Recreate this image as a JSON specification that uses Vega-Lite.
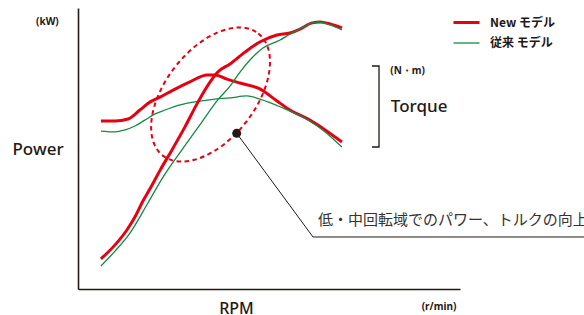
{
  "$schema": "https://vega.github.io/schema/vega-lite/v6.json",
  "width": 382,
  "height": 281,
  "autosize": {"type": "none"},
  "padding": {"left": 78, "top": 8, "right": 124, "bottom": 26},
  "background": "white",
  "config": {
    "view": {"stroke": null},
    "font": "Noto Sans CJK JP",
    "axis": {"grid": false, "ticks": false, "labels": false, "domainColor": "#231815", "domainWidth": 1.6, "titleFont": "Noto Sans", "titleFontWeight": 500, "titleColor": "#231815"}
  },
  "datasets": {
    "curves": [
      {"model": "New モデル", "metric": "torque", "rpm": 6.0, "value": 59.8},
      {"model": "New モデル", "metric": "torque", "rpm": 9.7, "value": 59.8},
      {"model": "New モデル", "metric": "torque", "rpm": 13.1, "value": 60.5},
      {"model": "New モデル", "metric": "torque", "rpm": 16.2, "value": 63.7},
      {"model": "New モデル", "metric": "torque", "rpm": 18.8, "value": 66.5},
      {"model": "New モデル", "metric": "torque", "rpm": 21.5, "value": 68.3},
      {"model": "New モデル", "metric": "torque", "rpm": 24.9, "value": 70.8},
      {"model": "New モデル", "metric": "torque", "rpm": 29.3, "value": 73.7},
      {"model": "New モデル", "metric": "torque", "rpm": 33.8, "value": 76.2},
      {"model": "New モデル", "metric": "torque", "rpm": 35.9, "value": 76.2},
      {"model": "New モデル", "metric": "torque", "rpm": 39.0, "value": 74.7},
      {"model": "New モデル", "metric": "torque", "rpm": 42.4, "value": 73.3},
      {"model": "New モデル", "metric": "torque", "rpm": 47.6, "value": 71.2},
      {"model": "New モデル", "metric": "torque", "rpm": 52.1, "value": 66.9},
      {"model": "New モデル", "metric": "torque", "rpm": 55.5, "value": 63.7},
      {"model": "New モデル", "metric": "torque", "rpm": 60.7, "value": 60.1},
      {"model": "New モデル", "metric": "torque", "rpm": 64.7, "value": 56.6},
      {"model": "New モデル", "metric": "torque", "rpm": 69.1, "value": 52.3},
      {"model": "従来 モデル", "metric": "torque", "rpm": 6.0, "value": 56.2},
      {"model": "従来 モデル", "metric": "torque", "rpm": 9.7, "value": 55.9},
      {"model": "従来 モデル", "metric": "torque", "rpm": 12.3, "value": 56.6},
      {"model": "従来 モデル", "metric": "torque", "rpm": 14.9, "value": 58.0},
      {"model": "従来 モデル", "metric": "torque", "rpm": 17.5, "value": 60.1},
      {"model": "従来 モデル", "metric": "torque", "rpm": 20.2, "value": 62.3},
      {"model": "従来 モデル", "metric": "torque", "rpm": 22.8, "value": 63.7},
      {"model": "従来 モデル", "metric": "torque", "rpm": 26.7, "value": 65.5},
      {"model": "従来 モデル", "metric": "torque", "rpm": 30.1, "value": 66.5},
      {"model": "従来 モデル", "metric": "torque", "rpm": 35.9, "value": 67.6},
      {"model": "従来 モデル", "metric": "torque", "rpm": 39.8, "value": 68.0},
      {"model": "従来 モデル", "metric": "torque", "rpm": 44.2, "value": 68.7},
      {"model": "従来 モデル", "metric": "torque", "rpm": 47.6, "value": 67.6},
      {"model": "従来 モデル", "metric": "torque", "rpm": 53.7, "value": 64.4},
      {"model": "従来 モデル", "metric": "torque", "rpm": 60.7, "value": 59.8},
      {"model": "従来 モデル", "metric": "torque", "rpm": 64.7, "value": 55.9},
      {"model": "従来 モデル", "metric": "torque", "rpm": 69.1, "value": 50.5},
      {"model": "New モデル", "metric": "power", "rpm": 6.0, "value": 10.7},
      {"model": "New モデル", "metric": "power", "rpm": 9.7, "value": 15.7},
      {"model": "New モデル", "metric": "power", "rpm": 12.8, "value": 21.0},
      {"model": "New モデル", "metric": "power", "rpm": 14.9, "value": 25.6},
      {"model": "New モデル", "metric": "power", "rpm": 17.0, "value": 31.3},
      {"model": "New モデル", "metric": "power", "rpm": 19.4, "value": 37.0},
      {"model": "New モデル", "metric": "power", "rpm": 21.5, "value": 42.3},
      {"model": "New モデル", "metric": "power", "rpm": 24.6, "value": 49.5},
      {"model": "New モデル", "metric": "power", "rpm": 28.0, "value": 57.7},
      {"model": "New モデル", "metric": "power", "rpm": 31.4, "value": 66.5},
      {"model": "New モデル", "metric": "power", "rpm": 34.6, "value": 73.7},
      {"model": "New モデル", "metric": "power", "rpm": 36.6, "value": 77.2},
      {"model": "New モデル", "metric": "power", "rpm": 39.8, "value": 80.1},
      {"model": "New モデル", "metric": "power", "rpm": 43.7, "value": 84.3},
      {"model": "New モデル", "metric": "power", "rpm": 47.6, "value": 87.9},
      {"model": "New モデル", "metric": "power", "rpm": 52.1, "value": 90.4},
      {"model": "New モデル", "metric": "power", "rpm": 55.5, "value": 91.1},
      {"model": "New モデル", "metric": "power", "rpm": 58.1, "value": 92.5},
      {"model": "New モデル", "metric": "power", "rpm": 61.3, "value": 94.7},
      {"model": "New モデル", "metric": "power", "rpm": 63.4, "value": 95.0},
      {"model": "New モデル", "metric": "power", "rpm": 66.0, "value": 94.3},
      {"model": "New モデル", "metric": "power", "rpm": 69.1, "value": 92.9},
      {"model": "従来 モデル", "metric": "power", "rpm": 6.0, "value": 8.2},
      {"model": "従来 モデル", "metric": "power", "rpm": 9.7, "value": 13.5},
      {"model": "従来 モデル", "metric": "power", "rpm": 13.6, "value": 19.9},
      {"model": "従来 モデル", "metric": "power", "rpm": 18.3, "value": 30.6},
      {"model": "従来 モデル", "metric": "power", "rpm": 22.3, "value": 39.9},
      {"model": "従来 モデル", "metric": "power", "rpm": 27.2, "value": 49.5},
      {"model": "従来 モデル", "metric": "power", "rpm": 31.9, "value": 58.4},
      {"model": "従来 モデル", "metric": "power", "rpm": 36.6, "value": 67.3},
      {"model": "従来 モデル", "metric": "power", "rpm": 39.8, "value": 72.2},
      {"model": "従来 モデル", "metric": "power", "rpm": 42.4, "value": 77.2},
      {"model": "従来 モデル", "metric": "power", "rpm": 45.5, "value": 82.2},
      {"model": "従来 モデル", "metric": "power", "rpm": 48.4, "value": 85.8},
      {"model": "従来 モデル", "metric": "power", "rpm": 52.9, "value": 88.6},
      {"model": "従来 モデル", "metric": "power", "rpm": 55.5, "value": 90.7},
      {"model": "従来 モデル", "metric": "power", "rpm": 58.6, "value": 92.9},
      {"model": "従来 モデル", "metric": "power", "rpm": 61.3, "value": 94.7},
      {"model": "従来 モデル", "metric": "power", "rpm": 63.4, "value": 95.0},
      {"model": "従来 モデル", "metric": "power", "rpm": 66.0, "value": 94.0},
      {"model": "従来 モデル", "metric": "power", "rpm": 69.1, "value": 92.2}
    ],
    "leader": [
      {"i": 0, "rpm": 41.54, "value": 55.41},
      {"i": 1, "rpm": 61.52, "value": 18.51},
      {"i": 2, "rpm": 136.6, "value": 18.51}
    ],
    "bracket": [
      {"i": 0, "rpm": 76.96, "value": 79.36},
      {"i": 1, "rpm": 78.8, "value": 79.36},
      {"i": 2, "rpm": 78.8, "value": 50.53},
      {"i": 3, "rpm": 76.96, "value": 50.53}
    ]
  },
  "layer": [
    {
      "data": {"name": "curves"},
      "mark": {"type": "line", "interpolate": "monotone"},
      "encoding": {
        "x": {"field": "rpm", "type": "quantitative", "scale": {"domain": [0, 100], "nice": false, "zero": false},
              "axis": {"title": "RPM", "titleFontSize": 16, "titleX": 158, "titleY": 24, "titleBaseline": "alphabetic", "titleAlign": "center"}},
        "y": {"field": "value", "type": "quantitative", "scale": {"domain": [0, 100], "nice": false, "zero": false},
              "axis": {"title": "Power", "titleFontSize": 17, "titleAngle": 0, "titleX": -66, "titleY": 146, "titleAlign": "left", "titleBaseline": "alphabetic"}},
        "color": {"field": "model", "type": "nominal",
                  "scale": {"domain": ["New モデル", "従来 モデル"], "range": ["#e60012", "#128a45"]},
                  "legend": {"title": null, "orient": "none", "legendX": 374, "legendY": 0, "symbolType": "stroke", "symbolSize": 676, "padding": 0,
                             "labelFont": "Noto Sans CJK JP", "labelFontWeight": "bold", "labelFontSize": 12, "labelColor": "#231815", "labelOffset": 9, "rowPadding": -8}},
        "strokeWidth": {"field": "model", "type": "nominal",
                  "scale": {"type": "ordinal", "domain": ["New モデル", "従来 モデル"], "range": [3, 1.3]},
                  "legend": {"title": null, "orient": "none", "legendX": 374, "legendY": 0, "symbolType": "stroke", "symbolSize": 676, "padding": 0,
                             "labelFont": "Noto Sans CJK JP", "labelFontWeight": "bold", "labelFontSize": 12, "labelColor": "#231815", "labelOffset": 9, "rowPadding": -8}},
        "detail": {"field": "metric", "type": "nominal"}
      }
    },
    {
      "data": {"values": [{"rpm": 34.7, "value": 69.2}]},
      "mark": {"type": "point", "shape": "M1,0C1,0.3205 0.5523,0.58 0,0.58C-0.5523,0.58 -1,0.3205 -1,0C-1,-0.3205 -0.5523,-0.58 0,-0.58C0.5523,-0.58 1,-0.3205 1,0Z",
               "size": 24025, "angle": 308, "filled": false, "stroke": "#e60012", "strokeWidth": 2, "strokeDash": [4.5, 3.5], "opacity": 1},
      "encoding": {"x": {"field": "rpm", "type": "quantitative"}, "y": {"field": "value", "type": "quantitative"}}
    },
    {
      "data": {"name": "leader"},
      "mark": {"type": "line", "color": "#231815", "strokeWidth": 1},
      "encoding": {"x": {"field": "rpm", "type": "quantitative"}, "y": {"field": "value", "type": "quantitative"}, "order": {"field": "i"}}
    },
    {
      "data": {"values": [{"rpm": 41.54, "value": 55.41}]},
      "mark": {"type": "circle", "size": 80, "color": "#231815", "opacity": 1},
      "encoding": {"x": {"field": "rpm", "type": "quantitative"}, "y": {"field": "value", "type": "quantitative"}}
    },
    {
      "data": {"name": "bracket"},
      "mark": {"type": "line", "color": "#231815", "strokeWidth": 1.3},
      "encoding": {"x": {"field": "rpm", "type": "quantitative"}, "y": {"field": "value", "type": "quantitative"}, "order": {"field": "i"}}
    },
    {
      "data": {"values": [
        {"label": "(kW)", "rpm": -8.0, "value": 95.0},
        {"label": "(r/min)", "rpm": 94.5, "value": -6.4},
        {"label": "(N・m)", "rpm": 86.3, "value": 77.6}
      ]},
      "mark": {"type": "text", "font": "Noto Sans", "fontWeight": "bold", "fontSize": 10, "color": "#231815", "align": "center", "baseline": "middle"},
      "encoding": {"x": {"field": "rpm", "type": "quantitative"}, "y": {"field": "value", "type": "quantitative"}, "text": {"field": "label"}}
    },
    {
      "data": {"values": [{"label": "Torque", "rpm": 81.9, "value": 64.8}]},
      "mark": {"type": "text", "font": "Noto Sans", "fontWeight": 500, "fontSize": 17, "color": "#231815", "align": "left", "baseline": "middle"},
      "encoding": {"x": {"field": "rpm", "type": "quantitative"}, "y": {"field": "value", "type": "quantitative"}, "text": {"field": "label"}}
    },
    {
      "data": {"values": [{"label": "低・中回転域でのパワー、トルクの向上", "rpm": 62.8, "value": 24.6}]},
      "mark": {"type": "text", "font": "Noto Sans CJK JP", "fontSize": 15, "color": "#333333", "align": "left", "baseline": "middle"},
      "encoding": {"x": {"field": "rpm", "type": "quantitative"}, "y": {"field": "value", "type": "quantitative"}, "text": {"field": "label"}}
    }
  ]
}
